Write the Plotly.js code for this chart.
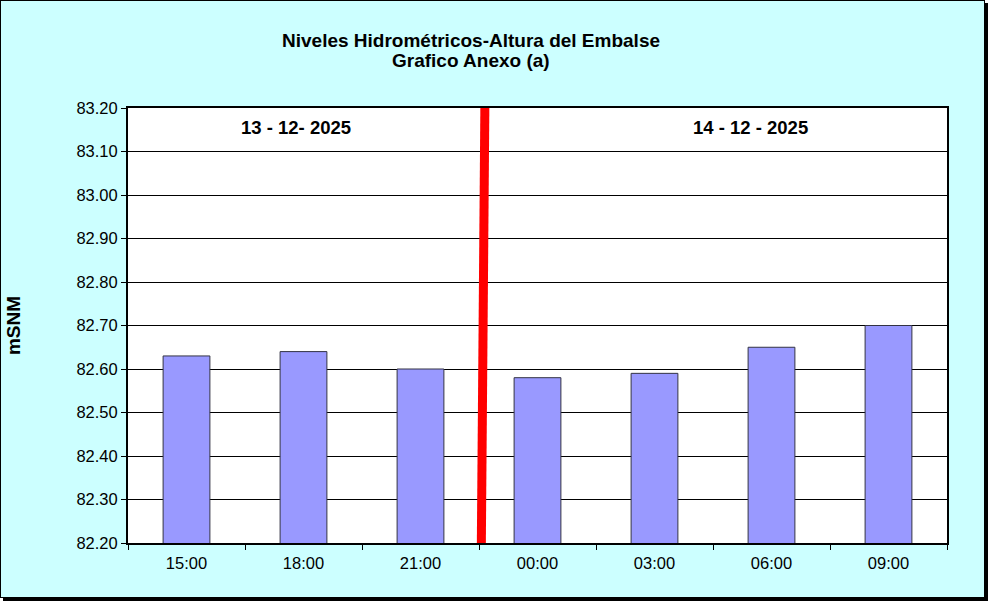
<!DOCTYPE html>
<html><head><meta charset="utf-8">
<script src="https://cdn.plot.ly/plotly-3.0.1.min.js"></script>
<style>
html,body{margin:0;padding:0;background:#ffffff;}
#wrap{position:absolute;left:0;top:0;width:983px;height:596px;border:1px solid #000;box-shadow:3px 3px 0 #000;background:#ccffff;}
#chart{width:989px;height:603px;position:absolute;left:-1px;top:-1px;}
</style></head>
<body>
<div id="wrap"><div id="chart"></div></div>
<script>
const categories = ["15:00","18:00","21:00","00:00","03:00","06:00","09:00"];
const levels = [82.63, 82.64, 82.60, 82.58, 82.59, 82.65, 82.70];
const yTicks = [82.2,82.3,82.4,82.5,82.6,82.7,82.8,82.9,83.0,83.1,83.2];
const yTickLabels = ["82.20","82.30","82.40","82.50","82.60","82.70","82.80","82.90","83.00","83.10","83.20"];
const titleLines = ["Niveles Hidrométricos-Altura del Embalse", "Grafico Anexo (a)"];
const dateLabels = ["13 - 12- 2025", "14 - 12 - 2025"];
const datePos = [0.94, 4.82];
const dividerTop = 2.55, dividerBottom = 2.52;

const trace = {
  type: "bar", x: categories, y: levels,
  marker: {color: "#9999ff", line: {color: "#333344", width: 1}},
  width: 0.4, hoverinfo: "skip"
};

const ppy = (py) => 1 + (108 - py) / 435;

const layout = {
  width: 989, height: 603,
  paper_bgcolor: "rgba(0,0,0,0)", plot_bgcolor: "#ffffff",
  margin: {l: 128, r: 42, t: 108, b: 60},
  font: {family: "Liberation Sans, Arial, sans-serif", color: "#000", size: 16},
  showlegend: false,
  xaxis: {type: "category", range: [-0.5, 6.5], showline: true, mirror: true, linecolor: "#000", linewidth: 2,
          ticks: "outside", tickson: "boundaries", ticklen: 5, tickcolor: "#000", showgrid: false,
          tickfont: {size: 16.5}, ticklabelstandoff: 4, fixedrange: true},
  yaxis: {range: [82.2, 83.2], tickvals: yTicks, ticktext: yTickLabels,
          showline: true, mirror: true, linecolor: "#000", linewidth: 2,
          ticks: "outside", ticklen: 5, tickcolor: "#000", showgrid: true, gridcolor: "#000", gridwidth: 1,
          zeroline: false, tickfont: {size: 16.5},
          title: {text: "<b>mSNM</b>", font: {size: 19}, standoff: 51}},
  shapes: [{type: "line", xref: "x", yref: "paper", x0: dividerBottom, x1: dividerTop, y0: 0, y1: 1,
            line: {color: "#ff0000", width: 9}}],
  annotations: dateLabels.map((t, i) => ({text: "<b>" + t + "</b>", x: datePos[i], xref: "x",
            y: ppy(128), yref: "paper", yanchor: "middle", xanchor: "center", showarrow: false, font: {size: 18.5}}))
    .concat(titleLines.map((t, i) => ({text: "<b>" + t + "</b>", x: (471 - 128) / 819, xref: "paper",
            y: ppy(40 + 21 * i), yref: "paper", yanchor: "middle", xanchor: "center", showarrow: false, font: {size: 19}})))
};
Plotly.newPlot("chart", [trace], layout, {displayModeBar: false, staticPlot: true});
</script>
</body></html>
